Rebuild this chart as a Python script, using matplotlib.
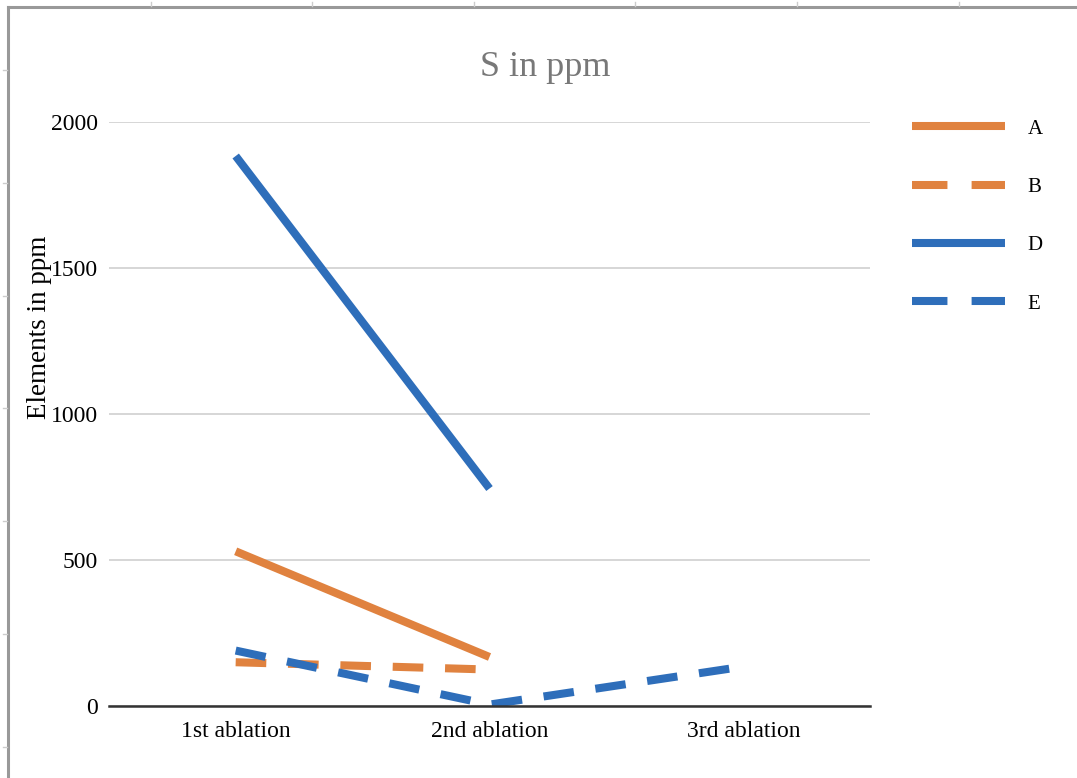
import matplotlib
matplotlib.use("Agg")
from matplotlib import pyplot as plt
from matplotlib.lines import Line2D

categories = ['1st ablation', '2nd ablation', '3rd ablation']
series_names = ['A', 'B', 'D', 'E']
a_vals = [530, 168]
b_vals = [150, 125]
d_vals = [1884, 745]
e_vals = [190, 5, 135]
y_ticks = [0, 500, 1000, 1500, 2000]

orange = '#E0823F'
blue = '#2E6EBA'

plt.rcParams['font.family'] = ['Liberation Serif', 'DejaVu Serif']

fig = plt.figure(figsize=(10.77, 7.78), dpi=100)
ax = fig.add_axes([0.101, 0.0925, 0.707, 0.7505])

lw = 5.8
dash = (3.8, 2.7)
ax.plot(range(len(a_vals)), a_vals, color=orange, lw=lw, solid_capstyle='butt', label='A')
ax.plot(range(len(b_vals)), b_vals, color=orange, lw=lw, dashes=dash, dash_capstyle='butt', label='B')
ax.plot(range(len(d_vals)), d_vals, color=blue, lw=lw, solid_capstyle='butt', label='D')
ax.plot(range(len(e_vals)), e_vals, color=blue, lw=lw, dashes=dash, dash_capstyle='butt', label='E')

ax.set_xlim(-0.5, 2.5)
ax.set_ylim(0, 2000)
ax.set_xticks(range(len(categories)))
ax.set_xticklabels(categories, fontsize=17)
ax.set_yticks(y_ticks)
ax.set_yticklabels([str(v) for v in y_ticks], fontsize=17)
ax.tick_params(length=0, pad=8)
ax.tick_params(axis='x', pad=11)
ax.grid(axis='y', color='#D0D0D0', lw=1.2)
ax.set_axisbelow(True)
for s in ['top', 'right', 'left']:
    ax.spines[s].set_visible(False)
ax.spines['bottom'].set_color('#333333')
ax.spines['bottom'].set_linewidth(1.8)
ax.set_ylabel('Elements in ppm', fontsize=19.5)
ax.yaxis.set_label_coords(-0.074, 0.649)

fig.text(0.506, 0.913, 'S in ppm', ha='center', va='center', fontsize=26, color='#787878')

# legend
handles = [
    Line2D([], [], color=orange, lw=lw, solid_capstyle='butt'),
    Line2D([], [], color=orange, lw=lw, dashes=(4.4, 3.0), dash_capstyle='butt'),
    Line2D([], [], color=blue, lw=lw, solid_capstyle='butt'),
    Line2D([], [], color=blue, lw=lw, dashes=(4.4, 3.0), dash_capstyle='butt'),
]
fig.legend(handles, series_names, loc='upper left', bbox_to_anchor=(0.829, 0.871),
           frameon=False, fontsize=15, handlelength=4.47, handletextpad=1.1,
           labelspacing=1.86)

# spreadsheet frame
fig.add_artist(Line2D([0.0075, 0.0075], [0, 0.991], color='#999999', lw=2.2))
fig.add_artist(Line2D([0.0075, 1.0], [0.991, 0.991], color='#999999', lw=2.2))
for yy in [0.91, 0.765, 0.62, 0.475, 0.33, 0.185, 0.04]:
    fig.add_artist(Line2D([0.003, 0.0065], [yy, yy], color='#CCCCCC', lw=1))
for xx in [0.14, 0.29, 0.44, 0.59, 0.74, 0.89]:
    fig.add_artist(Line2D([xx, xx], [0.992, 0.997], color='#CCCCCC', lw=1))

fig.savefig('out.png', dpi=100)
